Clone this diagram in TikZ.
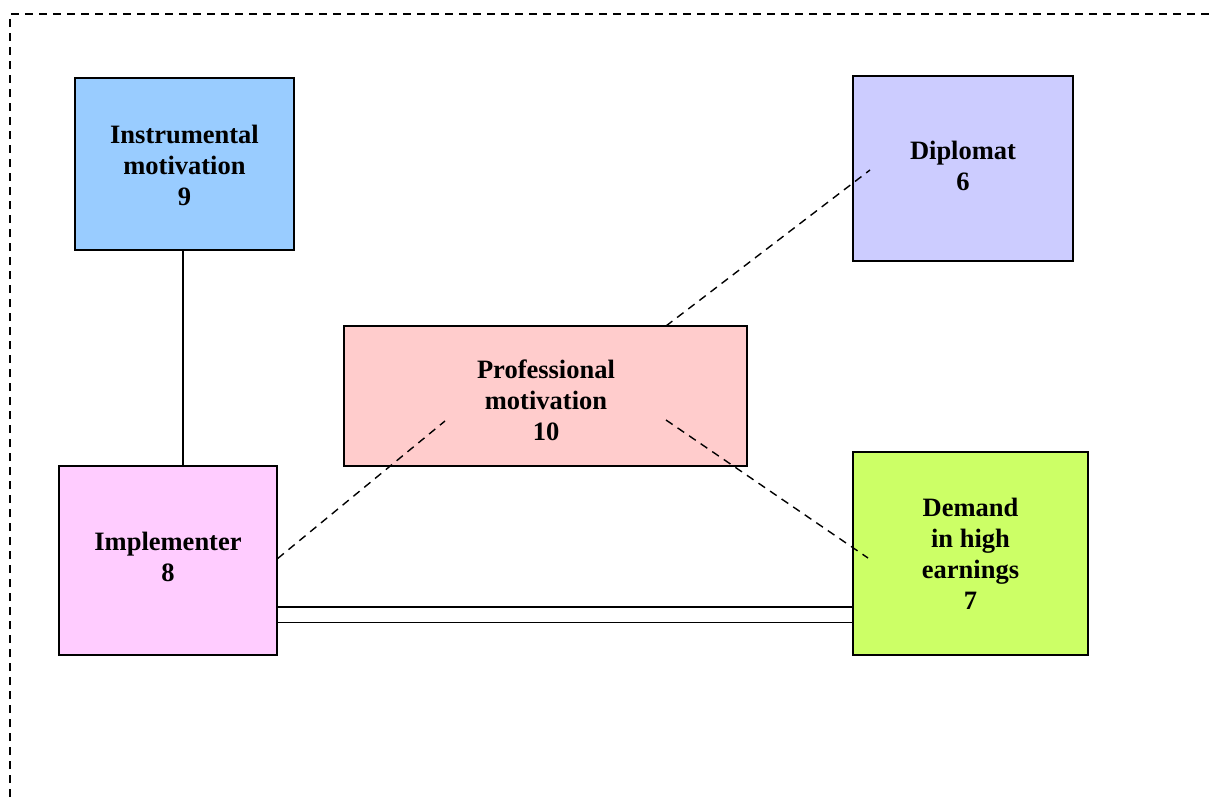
\documentclass[tikz,border=0pt]{standalone}
\usepackage{fontspec}
\setmainfont{Liberation Serif}
\definecolor{cinst}{HTML}{99CCFF}
\definecolor{cdip}{HTML}{CCCCFF}
\definecolor{cprof}{HTML}{FFCCCC}
\definecolor{cimp}{HTML}{FFCCFF}
\definecolor{cdem}{HTML}{CCFF66}
\tikzset{
  box/.style={draw=black, line width=1.4pt, inner sep=0pt},
  txt/.style={inner sep=0pt, align=center,
    font=\fontsize{26.5}{31}\selectfont\bfseries},
  dline/.style={draw=black, line width=1.4pt, dash pattern=on 8pt off 6pt},
  sline/.style={draw=black, line width=1.5pt},
}
\begin{document}
\begin{tikzpicture}[x=1pt,y=-1pt]
\useasboundingbox (0,0) rectangle (1211,797);
% border
\coordinate (b1) at (10,797);
\coordinate (b2) at (10,14);
\coordinate (b3) at (1211,14);
\draw[dline] (b1) -- (b2) -- (b3);
% boxes
\node[box, fill=cinst, minimum width=219pt, minimum height=172pt] (inst) at (184.5,164) {};
\node[box, fill=cdip, minimum width=220pt, minimum height=185pt] (dip) at (963,168.5) {};
\node[box, fill=cprof, minimum width=403pt, minimum height=140pt] (prof) at (545.5,396) {};
\node[box, fill=cimp, minimum width=218pt, minimum height=189pt] (imp) at (168,560.5) {};
\node[box, fill=cdem, minimum width=235pt, minimum height=203pt] (dem) at (970.5,553.5) {};
% texts
\node[txt] (instT) at (184.5,165) {Instrumental\\motivation\\9};
\node[txt] (dipT) at (963,166) {Diplomat\\6};
\node[txt] (profT) at (546,400) {Professional\\motivation\\10};
\node[txt] (impT) at (168,556.5) {Implementer\\8};
\node[txt] (demT) at (970.5,553.5) {Demand\\in high\\earnings\\7};
% connector coordinates
\coordinate (pdA) at (666,326);
\coordinate (pdB) at (870,170);
\coordinate (ipB) at (445,421);
\coordinate (peA) at (666,420);
\coordinate (peB) at (868,558);
\coordinate (dl) at (0,614.5);
% connectors
\draw[sline] (inst.south -| 183,0) -- (imp.north -| 183,0);
\draw[dline] (pdA) -- (pdB);
\draw[dline] ([yshift=2pt]imp.east) -- (ipB);
\draw[dline] (peA) -- (peB);
\draw[line width=1.3pt, double, double distance=14pt] (imp.east |- dl) -- (dem.west |- dl);
\end{tikzpicture}
\end{document}
